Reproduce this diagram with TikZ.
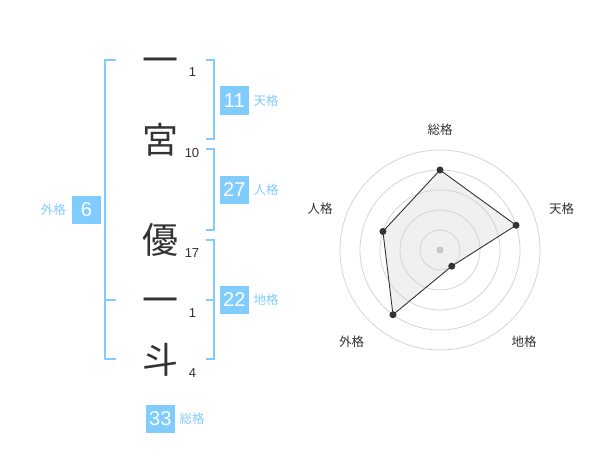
\documentclass[tikz,border=0pt]{standalone}
\usepackage{fontspec}
\setmainfont{Liberation Sans}
\newfontfamily\cjk{Noto Sans CJK JP}
\definecolor{bl}{RGB}{128,204,255}
\definecolor{dk}{RGB}{51,51,51}
\definecolor{ringcol}{RGB}{212,212,212}
\definecolor{polyfill}{RGB}{240,240,240}
\definecolor{ctrdot}{RGB}{200,200,200}
\begin{document}
\begin{tikzpicture}[x=1pt,y=-1pt,
 kanji/.style={font=\cjk\fontsize{36}{36}\selectfont, text=dk, anchor=base, inner sep=0pt},
 strk/.style={font=\fontsize{13}{13}\selectfont, text=dk, inner sep=0pt},
 numbox/.style={fill=bl, text=white, minimum width=28.5pt, minimum height=28.5pt, inner sep=0pt, font=\fontsize{20}{20}\selectfont},
 lab/.style={font=\cjk\fontsize{12.5}{12.5}\selectfont, text=bl, inner sep=0pt},
 brk/.style={draw=bl, line width=2pt},
 rlab/.style={font=\cjk\fontsize{12.5}{12.5}\selectfont, text=dk, inner sep=0pt},
 ringline/.style={draw=ringcol, line width=0.8pt},
 pdot/.style={circle, fill=dk, inner sep=0pt, minimum size=7pt},
]
\useasboundingbox (0,0) rectangle (600,470);

% characters
\node[kanji] (k1) at (160,73.5) {一};
\node[kanji] (k2) at (160,153.7) {宮};
\node[kanji] (k3) at (160,253.7) {優};
\node[kanji] (k4) at (160,313.7) {一};
\node[kanji] (k5) at (160,373.7) {斗};

% stroke counts
\node[strk] (s1) at (192.5,72.5) {1};
\node[strk] (s2) at (192,152.7) {10};
\node[strk] (s3) at (192,252.7) {17};
\node[strk] (s4) at (192.5,312.7) {1};
\node[strk] (s5) at (192.5,372.7) {4};

% left bracket (gaikaku)
\draw[brk] (116,60) -- (105,60) -- (105,359) -- (116,359);
\draw[brk] (105,300) -- (116,300);
% right brackets
\draw[brk] (206,60) -- (214.3,60) -- (214.3,139.3) -- (206,139.3);
\draw[brk] (206,149.3) -- (214.3,149.3) -- (214.3,230) -- (206,230);
\draw[brk] (206,240) -- (214.3,240) -- (214.3,359.3) -- (206,359.3);
\draw[brk] (206,300) -- (214.3,300);

% boxes and labels
\node[numbox] (b6) at (86.5,210) {6};
\node[lab] (l6) at (53.3,210) {外格};
\node[numbox] (b11) at (234.3,100.3) {11};
\node[lab] (l11) at (266,100.3) {天格};
\node[numbox] (b27) at (234.3,190) {27};
\node[lab] (l27) at (266,190) {人格};
\node[numbox] (b22) at (234.3,300) {22};
\node[lab] (l22) at (266,300) {地格};
\node[numbox] (b33) at (160.3,419) {33};
\node[lab] (l33) at (192,419) {総格};

% radar chart
\begin{scope}[shift={(440,250)}]
\coordinate (pS) at (-90:80);
\coordinate (pT) at (-18:80);
\coordinate (pC) at (54:20);
\coordinate (pG) at (126:80);
\coordinate (pJ) at (198:60);
\fill[polyfill] (pS) -- (pT) -- (pC) -- (pG) -- (pJ) -- cycle;
\foreach \r in {20,40,60,80,100} \draw[ringline] (0,0) circle[radius=\r];
\draw[dk, line width=0.9pt, line join=round] (pS) -- (pT) -- (pC) -- (pG) -- (pJ) -- cycle;
\node[circle, fill=ctrdot, inner sep=0pt, minimum size=7pt] (ctr) at (0,0) {};
\node[pdot] (dS) at (pS) {};
\node[pdot] (dT) at (pT) {};
\node[pdot] (dC) at (pC) {};
\node[pdot] (dG) at (pG) {};
\node[pdot] (dJ) at (pJ) {};
\end{scope}
\node[rlab] (rS) at (440,130) {総格};
\node[rlab] (rT) at (561.7,209) {天格};
\node[rlab] (rJ) at (320,209) {人格};
\node[rlab] (rG) at (351.7,341.7) {外格};
\node[rlab] (rC) at (524,341.7) {地格};
\end{tikzpicture}
\end{document}
